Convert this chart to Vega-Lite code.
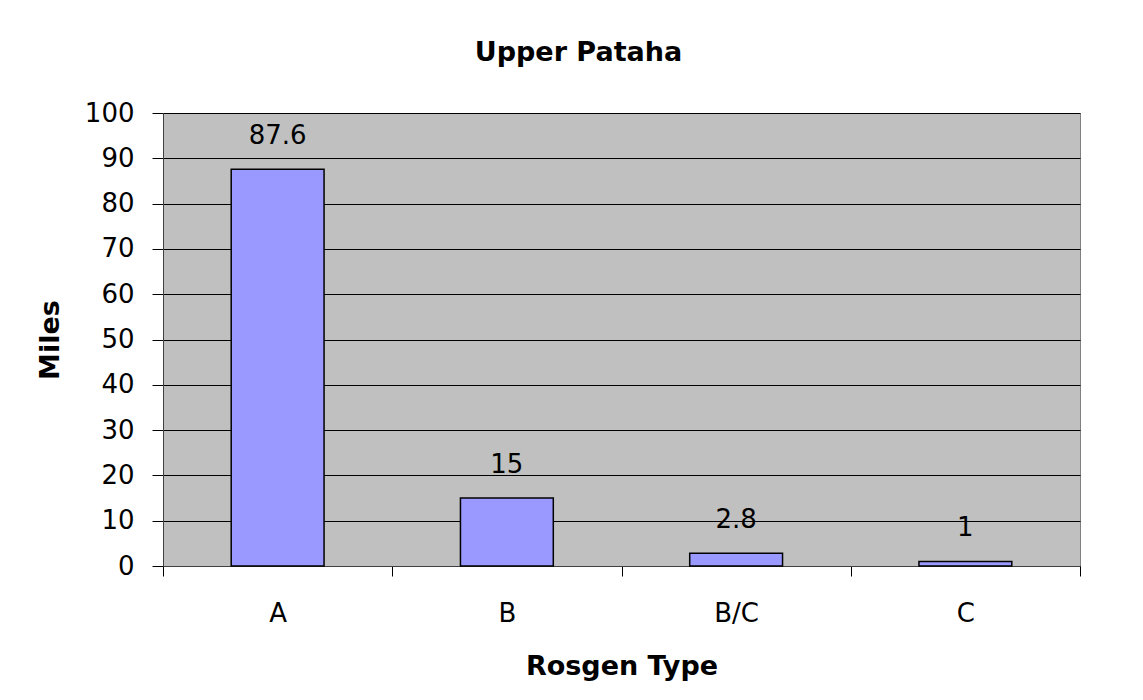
{
  "$schema": "https://vega.github.io/schema/vega-lite/v6.json",
  "autosize": "none",
  "width": 917,
  "height": 453,
  "padding": {"left": 163, "top": 113, "right": 63, "bottom": 134},
  "background": "white",
  "title": {"text": "Upper Pataha", "font": "DejaVu Sans", "fontSize": 27, "fontWeight": "bold", "color": "black", "anchor": "middle", "offset": 33, "dx": -43},
  "config": {
    "view": {"fill": "#C0C0C0", "stroke": "#808080", "strokeWidth": 1},
    "axis": {"labelFont": "DejaVu Sans", "titleFont": "DejaVu Sans", "labelColor": "black", "titleColor": "black"}
  },
  "data": {"values": [
    {"type": "A", "miles": 87.6},
    {"type": "B", "miles": 15},
    {"type": "B/C", "miles": 2.8},
    {"type": "C", "miles": 1}
  ]},
  "encoding": {
    "x": {"field": "type", "type": "nominal", "sort": null,
      "scale": {"paddingInner": 0, "paddingOuter": 0},
      "axis": {"title": "Rosgen Type", "titleFontSize": 27, "titleFontWeight": "bold", "titlePadding": 27,
        "labelAngle": 0, "labelFontSize": 26, "labelPadding": 24, "tickBand": "extent", "tickSize": 10,
        "tickColor": "black", "domainColor": "#404040", "grid": false}},
    "y": {"field": "miles", "type": "quantitative",
      "scale": {"domain": [0, 100], "nice": false},
      "axis": {"title": "Miles", "titleFontSize": 27, "titleFontWeight": "bold", "titlePadding": 20,
        "values": [0, 10, 20, 30, 40, 50, 60, 70, 80, 90, 100],
        "labelFontSize": 26, "labelPadding": 18, "tickSize": 11, "tickColor": "black",
        "domainColor": "#404040", "grid": true, "gridColor": "black", "gridOpacity": 1, "gridWidth": 1}}
  },
  "layer": [
    {"mark": {"type": "bar", "width": {"band": 0.405}, "fill": "#9999FF", "stroke": "black", "strokeWidth": 1.5}},
    {"mark": {"type": "text", "font": "DejaVu Sans", "fontSize": 26, "color": "black", "baseline": "middle", "dy": -33},
     "encoding": {"text": {"field": "miles", "type": "quantitative"}}}
  ]
}
